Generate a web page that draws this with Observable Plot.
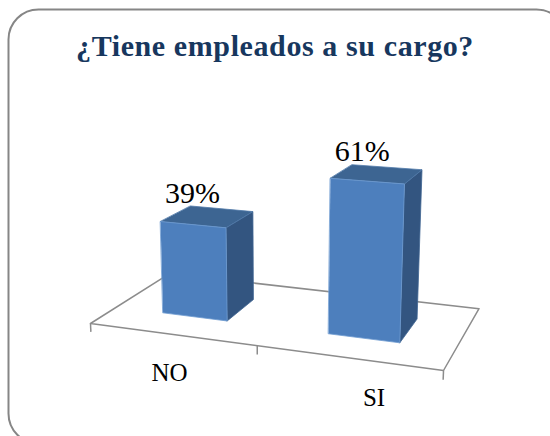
<!DOCTYPE html>
<html>
<head>
<meta charset="utf-8">
<script src="https://cdn.jsdelivr.net/npm/d3@7"></script>
<script src="https://cdn.jsdelivr.net/npm/@observablehq/plot@0.6"></script>
<style>
html,body{margin:0;padding:0;background:#fff}
svg{display:block}
g[font-weight="bold"] text{letter-spacing:.6px}
</style>
</head>
<body>
<div id="chart"></div>
<script>
const categories = ["NO", "SI"];
const values = [39, 61];
const chartTitle = "¿Tiene empleados a su cargo?";
const labelShift = [-3, 27];

// Oblique camera: s runs along the category axis (0..1), d into the depth (0..1), h is the percentage.
function project(s, d, h) {
  const w = 1 - 0.105 * s + 0.1526 * d;
  const X = 306.5 * s + 104.8 * d + 90;
  const Y = 8.15 * s - 8.3 * d + 323;
  const t = 0.000545 * h;
  const fx = X / w, fy = Y / w;
  const k = t / (w - 2.6 * t);
  return [fx - k * (278 - fx), fy - k * (4500 - fy)];
}
const px = p => project(p[0], p[1], p[2])[0];
const py = p => project(p[0], p[1], p[2])[1];

const halfBar = 0.1, dNear = 0.3, dFar = 0.7;
const centre = i => (i + 0.5) / categories.length;
function faces(i) {
  const a = centre(i) - halfBar, b = centre(i) + halfBar, v = values[i];
  return {
    front: [[a, dNear, 0], [b, dNear, 0], [b, dNear, v], [a, dNear, v]],
    side: [[b, dNear, 0], [b, dFar, 0], [b, dFar, v], [b, dNear, v]],
    top: [[a, dNear, v], [b, dNear, v], [b, dFar, v], [a, dFar, v]]
  };
}
const faceMark = (name, fill, stroke) => categories.map((c, i) =>
  Plot.line(faces(i)[name], {x: px, y: py, fill, stroke, strokeWidth: 0.8, curve: "linear-closed"}));

const axisTicks = d3.range(categories.length + 1).map(i => i / categories.length);
const floor = [[0, 0, 0], [1, 0, 0], [1, 1, 0], [0, 1, 0]];

const plot = Plot.plot({
  width: 550, height: 436,
  marginTop: 0, marginRight: 0, marginBottom: 0, marginLeft: 0,
  x: {domain: [0, 550], range: [0, 550], axis: null},
  y: {domain: [0, 436], range: [0, 436], axis: null},
  style: {background: "#fff"},
  marks: [
    Plot.frame({rx: 30, stroke: "#868686", strokeWidth: 2, insetLeft: 8, insetTop: 9, insetRight: -16, insetBottom: -7}),
    Plot.line(floor, {x: px, y: py, stroke: "#8c8c8c", strokeWidth: 1.5, fill: "#fff", curve: "linear-closed"}),
    Plot.link(axisTicks, {
      x1: s => px([s, 0, 0]), y1: s => py([s, 0, 0]),
      x2: s => px([s, 0, -3.7]), y2: s => py([s, 0, -3.7]),
      stroke: "#8c8c8c", strokeWidth: 1.5
    }),
    ...faceMark("side", "#335580", "#3f6492"),
    ...faceMark("top", "#3d6592", "#4f78a8"),
    ...faceMark("front", "#4d7fbd", "#6d9ad0"),
    Plot.text(values, {
      x: (v, i) => px([centre(i), 0.5, v]),
      y: (v, i) => py([centre(i), 0.5, v]),
      text: v => v + "%",
      dx: -15, dy: -13, lineAnchor: "bottom",
      fontFamily: "Liberation Serif", fontSize: 30, fill: "#000"
    }),
    ...categories.map((c, i) => Plot.text([c], {
      x: () => px([centre(i), 0, -17]),
      y: () => py([centre(i), 0, -17]),
      text: d => d,
      dx: labelShift[i], dy: 0,
      fontFamily: "Liberation Serif", fontSize: 25, fill: "#000"
    })),
    Plot.text([chartTitle], {
      x: () => 274.5, y: () => 55, text: d => d,
      lineAnchor: "bottom",
      fontFamily: "Liberation Serif", fontWeight: "bold", fontSize: 30, fill: "#17375e"
    })
  ]
});
document.getElementById("chart").append(plot);
</script>
</body>
</html>
